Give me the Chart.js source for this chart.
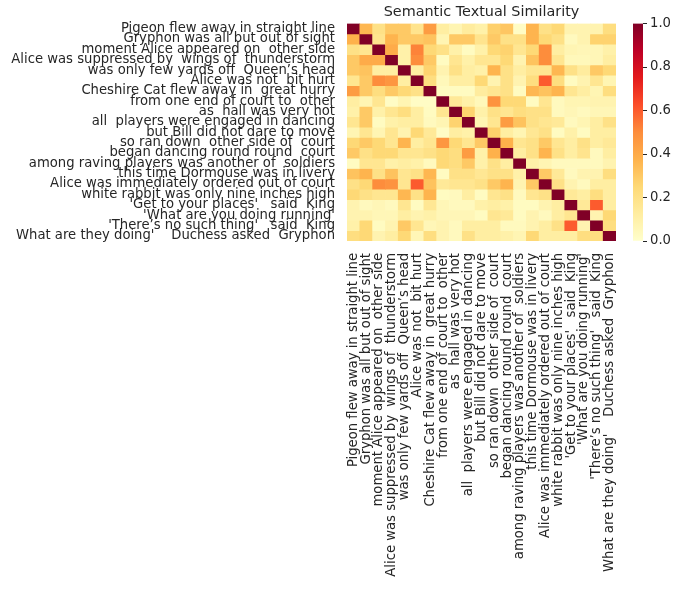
<!DOCTYPE html>
<html>
<head>
<meta charset="utf-8">
<script src="https://cdn.jsdelivr.net/npm/chart.js@4/dist/chart.umd.min.js"></script>
<style>
  body { margin: 0; background: #fff; }
  #wrap { position: relative; width: 681px; height: 589px; }
  canvas { position: absolute; left: 0; top: 0; }
</style>
</head>
<body>
<div id="wrap">
  <canvas id="heatmap" width="681" height="589"></canvas>
  <canvas id="colorbar" width="681" height="589"></canvas>
</div>
<script>
const sentences = [
    'Pigeon flew away in straight line',
    'Gryphon was all but out of sight',
    'moment Alice appeared on  other side',
    'Alice was suppressed by  wings of  thunderstorm',
    'was only few yards off  Queen’s head',
    'Alice was not  bit hurt',
    'Cheshire Cat flew away in  great hurry',
    'from one end of court to  other',
    'as  hall was very hot',
    'all  players were engaged in dancing',
    'but Bill did not dare to move',
    'so ran down  other side of  court',
    'began dancing round round  court',
    'among raving players was another of  soldiers',
    'this time Dormouse was in livery',
    'Alice was immediately ordered out of court',
    'white rabbit was only nine inches high',
    '\'Get to your places\'   said  King',
    '\'What are you doing running\'',
    '\'There’s no such thing\'   said  King',
    'What are they doing\'    Duchess asked  Gryphon'
];

// similarity matrix, one row per sentence
const similarity = [
    [1, .36, .2, .3, .3, .18, .45, .12, .07, .13, .1, .28, .31, .02, .37, .2, .25, .08, .08, .08, .22],
    [.38, 1, .18, .37, .3, .3, .32, .07, .3, .3, .18, .3, .2, .2, .37, .25, .2, .04, .08, .27, .27],
    [.2, .17, 1, .4, .1, .52, .25, .2, .1, .03, .1, .25, .27, .17, .25, .5, .12, .07, .06, .06, .1],
    [.3, .4, .4, 1, .1, .5, .3, .03, .17, .1, .17, .17, .25, .08, .32, .5, .17, .05, .05, .06, .12],
    [.3, .32, .12, .12, 1, .12, .27, .08, .2, .12, .1, .37, .2, .12, .17, .17, .36, .2, .13, .3, .25],
    [.17, .3, .5, .47, .12, 1, .22, .05, .12, .12, .25, .08, .2, .08, .22, .6, .22, .03, .08, .17, .07],
    [.45, .3, .22, .3, .25, .2, 1, .03, .03, .03, .13, .17, .2, .03, .36, .32, .37, .17, .12, .07, .22],
    [.12, .07, .17, .02, .07, .02, .02, 1, .15, .1, .05, .48, .25, .25, .03, .17, .04, .07, .07, .08, .08],
    [.1, .3, .1, .17, .22, .12, .03, .17, 1, .27, .1, .2, .17, .22, .2, .2, .04, .06, .04, .06, .06],
    [.17, .3, .03, .1, .12, .12, .04, .07, .27, 1, .07, .17, .45, .32, .2, .17, .15, .04, .07, .12, .2],
    [.07, .17, .07, .17, .08, .25, .15, .02, .12, .1, 1, .28, .12, .07, .16, .2, .03, .1, .03, .12, .12],
    [.25, .3, .25, .17, .37, .12, .17, .47, .25, .17, .3, 1, .38, .17, .2, .3, .17, .12, .2, .12, .15],
    [.3, .2, .25, .25, .17, .17, .2, .25, .22, .45, .1, .38, 1, .12, .2, .37, .2, .12, .18, .04, .12],
    [.03, .17, .17, .1, .12, .1, .04, .25, .22, .3, .1, .2, .12, 1, .1, .07, .04, .04, .04, .04, .08],
    [.32, .37, .2, .32, .17, .2, .36, .03, .2, .2, .16, .2, .2, .1, 1, .3, .15, .04, .08, .08, .22],
    [.2, .25, .5, .48, .17, .6, .32, .15, .17, .17, .2, .3, .37, .08, .3, 1, .2, .08, .04, .12, .12],
    [.25, .2, .17, .17, .36, .2, .37, .03, .04, .12, .03, .17, .2, .04, .17, .2, 1, .15, .12, .22, .12],
    [.08, .04, .06, .04, .17, .03, .16, .06, .04, .04, .1, .12, .1, .03, .03, .08, .12, 1, .15, .6, .12],
    [.08, .08, .06, .06, .12, .08, .1, .06, .06, .06, .03, .17, .15, .03, .08, .04, .12, .17, 1, .08, .25],
    [.1, .25, .03, .08, .3, .17, .06, .08, .04, .12, .12, .12, .04, .04, .08, .12, .2, .6, .08, 1, .22],
    [.22, .25, .08, .12, .25, .06, .22, .08, .04, .2, .12, .12, .1, .07, .25, .12, .12, .12, .22, .22, 1]
];

const colorbarTicks = [0, 0.2, 0.4, 0.6, 0.8, 1.0];

// YlOrRd colormap stops
const ylOrRdStops = ['#ffffcc', '#ffeda0', '#fed976', '#feb24c', '#fd8d3c', '#fc4e2a', '#e31a1c', '#bd0026', '#800026'];

function hexToRgb(h) {
    return [1, 3, 5].map(i => parseInt(h.slice(i, i + 2), 16));
}

function ylOrRd(v) {
    const t = Math.max(0, Math.min(1, v)) * (ylOrRdStops.length - 1);
    const i = Math.min(Math.floor(t), ylOrRdStops.length - 2);
    const f = t - i;
    const a = hexToRgb(ylOrRdStops[i]);
    const b = hexToRgb(ylOrRdStops[i + 1]);
    const c = a.map((x, k) => Math.round(x + (b[k] - x) * f));
    return `rgb(${c[0]}, ${c[1]}, ${c[2]})`;
}

const textColor = '#262626';
const fontFamily = '"DejaVu Sans", sans-serif';

const datasets = similarity.map((row, i) => ({
    label: sentences[i],
    data: row.map(() => 1),
    backgroundColor: row.map(v => ylOrRd(v)),
    borderWidth: 0,
    barPercentage: 1,
    categoryPercentage: 1
}));

new Chart(document.getElementById('heatmap'), {
    type: 'bar',
    data: { labels: sentences, datasets: datasets },
    options: {
        responsive: false,
        animation: false,
        events: [],
        layout: { padding: { left: 0, right: 65, top: 4, bottom: 0 } },
        plugins: {
            legend: { display: false },
            tooltip: { enabled: false },
            title: {
                display: true,
                text: 'Semantic Textual Similarity',
                fullSize: false,
                color: textColor,
                font: { family: fontFamily, size: 14.4, weight: 'normal' },
                padding: { top: 0, bottom: 2.2 }
            }
        },
        scales: {
            x: {
                type: 'category',
                stacked: true,
                grid: { display: false },
                border: { display: false },
                ticks: {
                    autoSkip: false,
                    maxRotation: 90,
                    minRotation: 90,
                    padding: 4,
                    color: textColor,
                    font: { family: fontFamily, size: 13.2 }
                },
                afterFit: (scale) => { scale.height = 348; }
            },
            y: {
                type: 'linear',
                stacked: true,
                reverse: true,
                min: 0,
                max: sentences.length,
                grid: { display: false },
                border: { display: false },
                afterBuildTicks: (scale) => {
                    scale.ticks = sentences.map((s, i) => ({ value: i + 0.5 }));
                },
                ticks: {
                    autoSkip: false,
                    padding: 4,
                    color: textColor,
                    font: { family: fontFamily, size: 13.2 },
                    callback: (v) => sentences[Math.floor(v)]
                },
                afterFit: (scale) => { scale.width = 347; }
            }
        }
    }
});

new Chart(document.getElementById('colorbar'), {
    type: 'bar',
    data: {
        labels: [''],
        datasets: [{
            data: [1],
            borderWidth: 0,
            barPercentage: 1,
            categoryPercentage: 1,
            backgroundColor: (ctx) => {
                const area = ctx.chart.chartArea;
                if (!area) return null;
                const g = ctx.chart.ctx.createLinearGradient(0, area.bottom, 0, area.top);
                ylOrRdStops.forEach((c, i) => g.addColorStop(i / (ylOrRdStops.length - 1), c));
                return g;
            }
        }]
    },
    options: {
        responsive: false,
        animation: false,
        events: [],
        layout: { padding: { left: 633, right: 0, top: 23.5, bottom: 348 } },
        plugins: { legend: { display: false }, tooltip: { enabled: false } },
        scales: {
            x: { display: false },
            y: {
                position: 'right',
                min: 0,
                max: 1,
                border: { display: false },
                grid: {
                    display: true,
                    drawOnChartArea: false,
                    drawTicks: true,
                    tickLength: 4,
                    color: textColor
                },
                afterBuildTicks: (scale) => {
                    scale.ticks = colorbarTicks.map(v => ({ value: v }));
                },
                ticks: {
                    padding: 3,
                    color: textColor,
                    font: { family: fontFamily, size: 13.2 },
                    callback: (v) => v.toFixed(1)
                },
                afterFit: (scale) => { scale.width = 38; }
            }
        }
    }
});
</script>
</body>
</html>
